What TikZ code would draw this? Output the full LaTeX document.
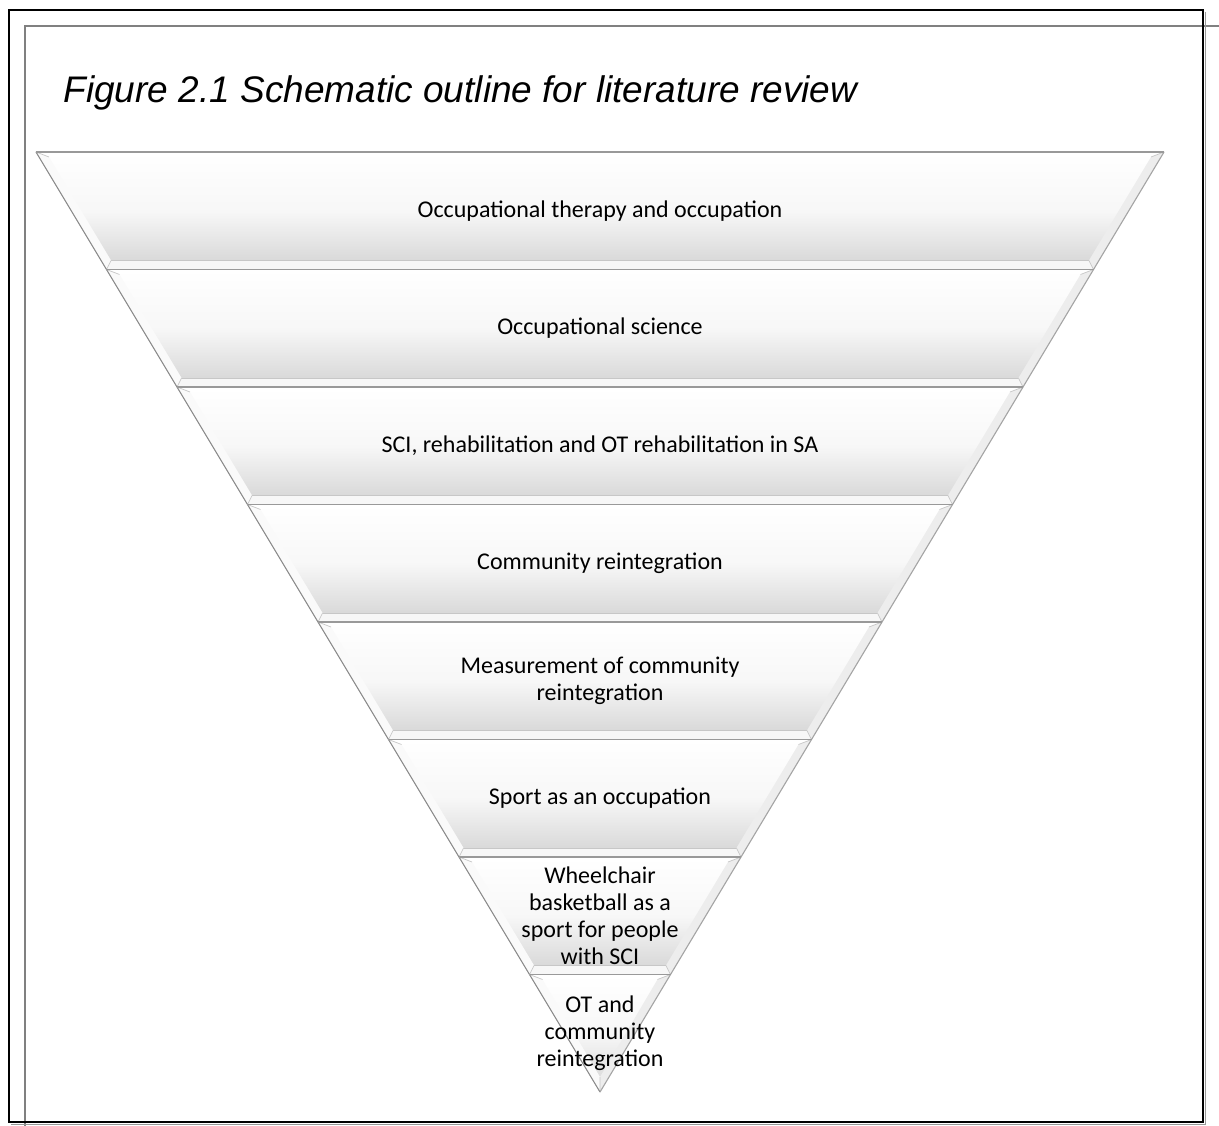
\documentclass[tikz,border=0pt]{standalone}
\usepackage{fontspec}
\setmainfont{Carlito}
\newfontfamily\titlefont{Liberation Sans}
\usetikzlibrary{calc}
\begin{document}
\begin{tikzpicture}[x=1pt,y=-1pt,
  outerframe/.style={draw=black,line width=2pt},
  guideline/.style={draw=black!50,line width=1.5pt},
  seglabel/.style={font=\fontsize{24}{27}\selectfont,align=center,text=black},
  bodyfill/.style={top color=white,bottom color=black!17,middle color=black!3},
  edgeline/.style={draw=black!40,line width=1.5pt},
  bevelseam/.style={draw=black!22,line width=0.7pt}]
\useasboundingbox (0,0) rectangle (1219,1126);
% page guides and frame
\draw[guideline] (25,1126) -- (25,26) -- (1219,26);
\draw[black!40,line width=1pt] (1205,12) -- (1205,1124) -- (11,1124);
\draw[outerframe] (9,10) rectangle (1203,1122);
\node[anchor=base west,font=\titlefont\itshape\fontsize{37}{44}\selectfont] (title) at (60,103)
  {Figure 2.1 Schematic outline for literature review};
% inverted pyramid: eight bevelled bands, apex at (600,1092)
\foreach \k/\txt in {
  0/{Occupational therapy and occupation},
  1/{Occupational science},
  2/{SCI, rehabilitation and OT rehabilitation in SA},
  3/{Community reintegration},
  4/{Measurement of community\\reintegration},
  5/{Sport as an occupation},
  6/{Wheelchair\\basketball as a\\sport for people\\with SCI},
  7/{OT and\\community\\reintegration}}{
  \pgfmathsetmacro\yt{152+117.5*\k}
  \pgfmathsetmacro\yb{152+117.5*(\k+1)}
  \pgfmathsetmacro\hwt{0.6*(1092-\yt)}
  \pgfmathsetmacro\hwb{0.6*(1092-\yb)}
  \pgfmathsetmacro\iyt{\yt+5}
  \pgfmathsetmacro\iyb{min(\yb-9,1077)}
  \pgfmathsetmacro\ihwt{0.6*(1092-\iyt)-10}
  \pgfmathsetmacro\ihwb{max(0.6*(1092-\iyb)-10,0)}
  \coordinate (otl) at (600-\hwt,\yt);
  \coordinate (otr) at (600+\hwt,\yt);
  \coordinate (obl) at (600-\hwb,\yb);
  \coordinate (obr) at (600+\hwb,\yb);
  \coordinate (itl) at (600-\ihwt,\iyt);
  \coordinate (itr) at (600+\ihwt,\iyt);
  \coordinate (ibl) at (600-\ihwb,\iyb);
  \coordinate (ibr) at (600+\ihwb,\iyb);
  % face of the band
  \fill[bodyfill] (otl) -- (otr) -- (obr) -- (obl) -- cycle;
  % bevel strips
  \fill[black!3] (ibl) -- (ibr) -- (obr) -- (obl) -- cycle;
  \fill[white] (otl) -- (otr) -- (itr) -- (itl) -- cycle;
  \fill[black!2] (otl) -- (itl) -- (ibl) -- (obl) -- cycle;
  \fill[black!7] (itr) -- (otr) -- (obr) -- (ibr) -- cycle;
  \draw[bevelseam] (ibl) -- (ibr);
  \draw[bevelseam] (obl) -- (ibl) (obr) -- (ibr) (otl) -- (itl) (otr) -- (itr);
  \draw[black!45,line width=1.1pt] (otl) -- (obl);
  \draw[black!35,line width=1.1pt] (otr) -- (obr);
  \draw[edgeline] (otl) -- (otr);
  \node[seglabel] (seg\k) at (600,{(\yt+\yb)/2}) {\txt};
}
\end{tikzpicture}
\end{document}
